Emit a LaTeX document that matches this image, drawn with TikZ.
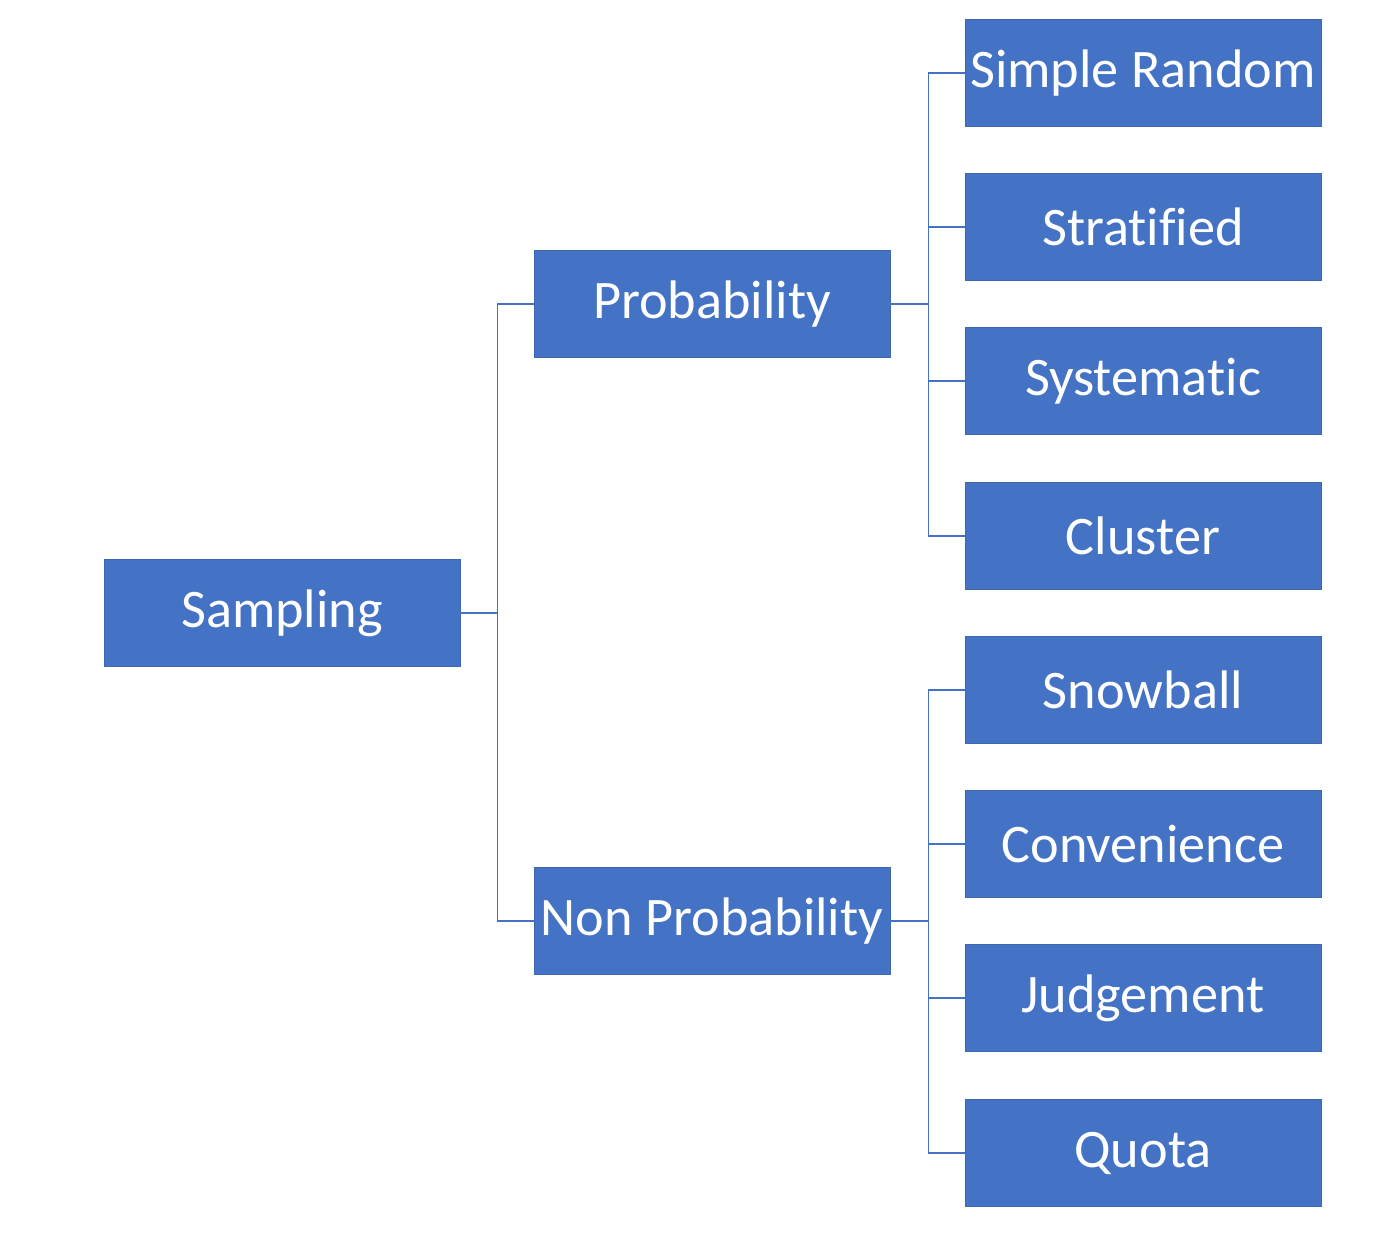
\documentclass[tikz,border=0pt]{standalone}
\usepackage{fontspec}
\setmainfont[Ligatures=NoCommon]{Carlito}
\usepackage{tikz}
\usetikzlibrary{calc}
\definecolor{boxblue}{HTML}{4472C4}

\begin{document}
\begin{tikzpicture}[x=0.025cm,y=-0.025cm]
\tikzset{
	box node/.style = {rectangle, fill = boxblue, draw = boxblue!90!black, line width = 0.6pt, text = white,
		minimum width = 8.9cm, minimum height = 2.675cm, inner sep = 0,
		font = \fontsize{38.6}{46}\selectfont},
	link/.style = {draw = boxblue, line width = 1pt},
}
\useasboundingbox (0,0) rectangle (1400,1255);

\node(samp)[box node] at (282,613){Sampling};
\node(prob)[box node] at (712,304){Probability};
\node(nonprob)[box node] at (712,921){Non Probability};

\node(simple)[box node] at (1143,73){Simple Random};
\node(strat)[box node] at (1143,227){Stratified};
\node(syst)[box node] at (1143,381){Systematic};
\node(clus)[box node] at (1143,536){Cluster};
\node(snow)[box node] at (1143,690){Snowball};
\node(conv)[box node] at (1143,844){Convenience};
\node(judge)[box node] at (1143,998){Judgement};
\node(quota)[box node] at (1143,1153){Quota};

% first level
\foreach \n in {prob,nonprob}
	\draw[link] (samp.east) -- ++(37,0) |- (\n.west);
% second level
\foreach \n in {simple,strat,syst,clus}
	\draw[link] (prob.east) -- ++(38,0) |- (\n.west);
\foreach \n in {snow,conv,judge,quota}
	\draw[link] (nonprob.east) -- ++(38,0) |- (\n.west);

\end{tikzpicture}
\end{document}
